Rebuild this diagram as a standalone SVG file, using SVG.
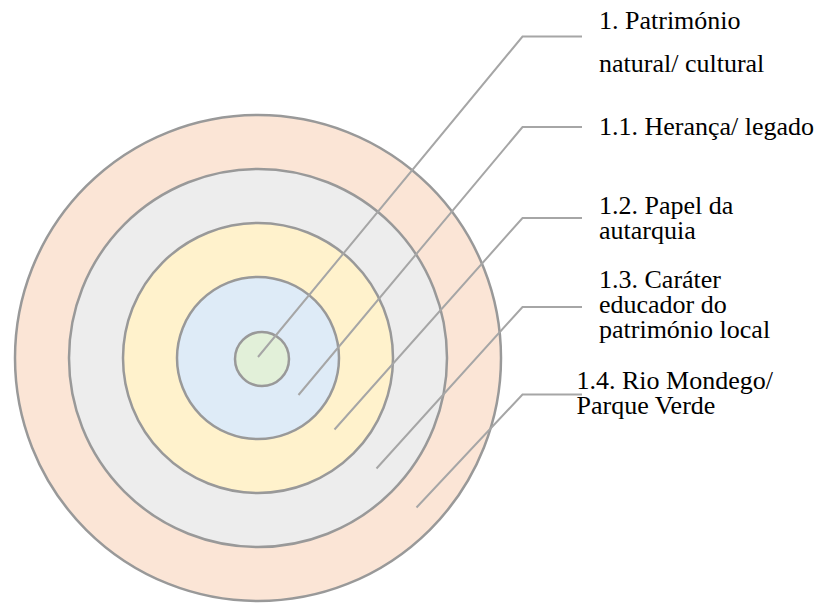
<svg xmlns="http://www.w3.org/2000/svg" width="821" height="603" viewBox="0 0 821 603">
  <style>
    .ring { stroke: #999999; stroke-width: 2.5; }
    .leader { fill: none; stroke: #a6a6a6; stroke-width: 2; stroke-linecap: butt; stroke-linejoin: miter; }
    .label { font-family: 'Liberation Serif', 'Times New Roman', serif; font-size: 26px; fill: #000000; }
  </style>
  <rect width="821" height="603" fill="#ffffff"/>

  <!-- concentric rings, outermost first -->
  <g id="ring-1-4">
    <circle class="ring" cx="258" cy="358" r="243" fill="#fbe5d6"/>
  </g>
  <g id="ring-1-3">
    <circle class="ring" cx="258" cy="358" r="189" fill="#ededed"/>
  </g>
  <g id="ring-1-2">
    <circle class="ring" cx="258" cy="358" r="135" fill="#fff2cc"/>
  </g>
  <g id="ring-1-1">
    <circle class="ring" cx="258" cy="358" r="81" fill="#deebf7"/>
  </g>
  <g id="ring-1">
    <circle class="ring" cx="262" cy="359" r="27" fill="#e2f0d9"/>
  </g>

  <!-- leader lines from each ring to its label -->
  <g id="connectors">
    <polyline class="leader" points="258,357 522.5,36.5 582,36.5"/>
    <polyline class="leader" points="298.5,395 522.5,127 582,127"/>
    <polyline class="leader" points="334.5,429.5 522.5,218 582,218"/>
    <polyline class="leader" points="376.5,468.5 522.5,307 582,307"/>
    <polyline class="leader" points="416.5,507.5 522.5,394.5 582,394.5"/>
  </g>

  <!-- labels -->
  <g id="label-1">
    <text class="label" x="599" y="28.5">1. Património</text>
    <text class="label" x="599" y="71.5">natural/ cultural</text>
  </g>
  <g id="label-1-1">
    <text class="label" x="599" y="134.5">1.1. Herança/ legado</text>
  </g>
  <g id="label-1-2">
    <text class="label" x="599" y="213.5">1.2. Papel da</text>
    <text class="label" x="599" y="239">autarquia</text>
  </g>
  <g id="label-1-3">
    <text class="label" x="599" y="287.5">1.3. Caráter</text>
    <text class="label" x="599" y="312.5">educador do</text>
    <text class="label" x="599" y="337.5">património local</text>
  </g>
  <g id="label-1-4">
    <text class="label" x="576.5" y="388.5">1.4. Rio Mondego/</text>
    <text class="label" x="576.5" y="413.5">Parque Verde</text>
  </g>
</svg>
